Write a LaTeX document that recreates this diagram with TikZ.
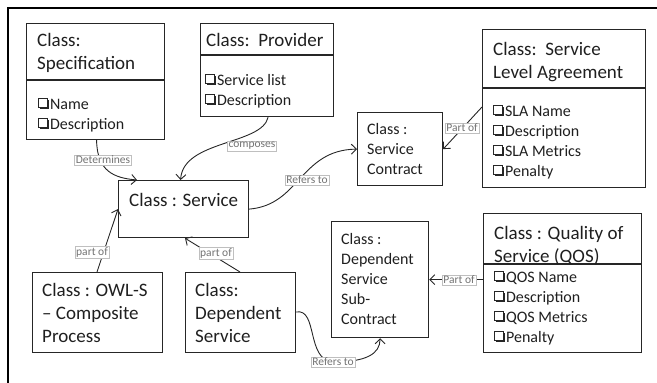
\documentclass[tikz,border=0pt]{standalone}
\usepackage{fontspec}
\setmainfont{Carlito}
\usetikzlibrary{arrows.meta}
\newcommand\cbx{\tikz[baseline=0pt,x=1pt,y=1pt]{\fill[black!85] (2.2,0) rectangle (11.3,9.0); \filldraw[fill=white, draw=black!85, line width=0.8pt] (0.6,2.0) rectangle (9.3,10.6);}\hspace{0.8pt}}
\begin{document}
\begin{tikzpicture}[x=1pt,y=-1pt,
  box/.style={draw=black!85, line width=1.2pt, anchor=north west, inner sep=0pt},
  ttl/.style={anchor=north west, inner sep=0pt, align=left, text=black!88, font=\fontsize{19}{23}\selectfont},
  itm/.style={anchor=north west, inner sep=0pt, align=left, text=black!88, font=\fontsize{16}{20}\selectfont},
  lbl/.style={fill=white, draw=black!25, line width=0.5pt, inner sep=1.2pt, text=black!55, font=\fontsize{11.5}{12}\selectfont},
  arr/.style={draw=black!85, line width=0.9pt, -{Straight Barb[length=5pt,width=10pt]}},
  lnk/.style={draw=black!85, line width=0.9pt}
]
\useasboundingbox (0,0) rectangle (657,383);
% frame
\draw[line width=1.4pt, black] (8,383) -- (8,8) -- (657,8);

% boxes
\node[box, minimum width=138pt, minimum height=116pt] (spec) at (26,23) {};
\draw[box] (spec.west |- 0,80) -- (spec.east |- 0,80);
\node[ttl] (specT) at (37,33) {Class:\\Specification};
\node[itm] (specI) at (38,98) {\cbx Name\\\cbx Description};

\node[box, minimum width=133pt, minimum height=93pt] (prov) at (200,23) {};
\draw[box] (prov.west |- 0,55) -- (prov.east |- 0,55);
\node[ttl] (provT) at (206,33) {Class:\ \ Provider};
\node[itm] (provI) at (205,74) {\cbx Service list\\\cbx Description};

\node[box, minimum width=163pt, minimum height=158pt] (sla) at (482,29) {};
\draw[box] (sla.west |- 0,88) -- (sla.east |- 0,88);
\node[ttl] (slaT) at (493,42) {Class:\ \ Service\\Level Agreement};
\node[itm] (slaI) at (493,105) {\cbx SLA Name\\\cbx Description\\\cbx SLA Metrics\\\cbx Penalty};

\node[box, minimum width=85pt, minimum height=73pt] (con) at (357,112) {};
\node[itm] (conT) at (367,123) {Class :\\Service\\Contract};

\node[box, minimum width=130pt, minimum height=57pt] (svc) at (118,180) {};
\node[ttl] (svcT) at (129,193) {Class : Service};

\node[box, minimum width=130pt, minimum height=80pt] (owl) at (32,272) {};
\node[ttl] (owlT) at (42,283) {Class : OWL-S\\– Composite\\Process};

\node[box, minimum width=110pt, minimum height=80pt] (dep) at (185,272) {};
\node[ttl] (depT) at (195,283) {Class:\\Dependent\\Service};

\node[box, minimum width=97pt, minimum height=116pt] (sub) at (331,221) {};
\node[itm] (subT) at (341,233) {Class :\\Dependent\\Service\\Sub-\\Contract};

\node[box, minimum width=158pt, minimum height=139pt] (qos) at (483,213) {};
\draw[box] (qos.west |- 0,264) -- (qos.east |- 0,264);
\node[ttl] (qosT) at (494,226) {Class : Quality of\\Service (QOS)};
\node[itm] (qosI) at (494,271) {\cbx QOS Name\\\cbx Description\\\cbx QOS Metrics\\\cbx Penalty};

% connectors
\coordinate (svcIn) at ([xshift=19pt]svc.north west);
\draw[arr] ([xshift=1pt]spec.south) .. controls (97,172) and (115,178) .. (svcIn);
\coordinate (provOut) at ([xshift=1pt]prov.south);
\coordinate (svcTop) at ([xshift=-3pt]svc.north);
\draw[arr] (provOut) .. controls (262,145) and (183,140) .. (svcTop);
\draw[arr] (svc.east) .. controls (300,205) and (300,150) .. (con.west);
\coordinate (slaOut) at (sla.west |- 0,107);
\draw[arr] (slaOut) -- (con.east);
\coordinate (owlOut) at ([xshift=65pt]owl.north west);
\draw[arr] (owlOut) -- (svc.west);
\coordinate (depTop) at ([xshift=55pt]dep.north west);
\coordinate (svcBot) at ([xshift=67pt]svc.south west);
\draw[arr] (depTop) -- (svcBot);
\coordinate (depR) at (dep.east |- 0,312);
\coordinate (refMid) at (333,362);
\draw[lnk] (depR) .. controls (318,308) and (306,360) .. (refMid);
\draw[arr] (refMid) .. controls (366,362) and (380,354) .. (sub.south);
\draw[arr] (sub.east -| qos.west) -- (sub.east);

% labels
\node[lbl] (l1) at (103,160) {Determines};
\node[lbl] (l2) at (252,146) {composes};
\node[lbl] (l3) at (307,180) {Refers to};
\node[lbl] (l4) at (462,128) {Part of};
\node[lbl] (l5) at (92,252) {part of};
\node[lbl] (l6) at (216,253) {part of};
\node[lbl] (l7) at (333,362) {Refers to};
\node[lbl] (l8) at (459,280) {Part of};
\end{tikzpicture}
\end{document}
